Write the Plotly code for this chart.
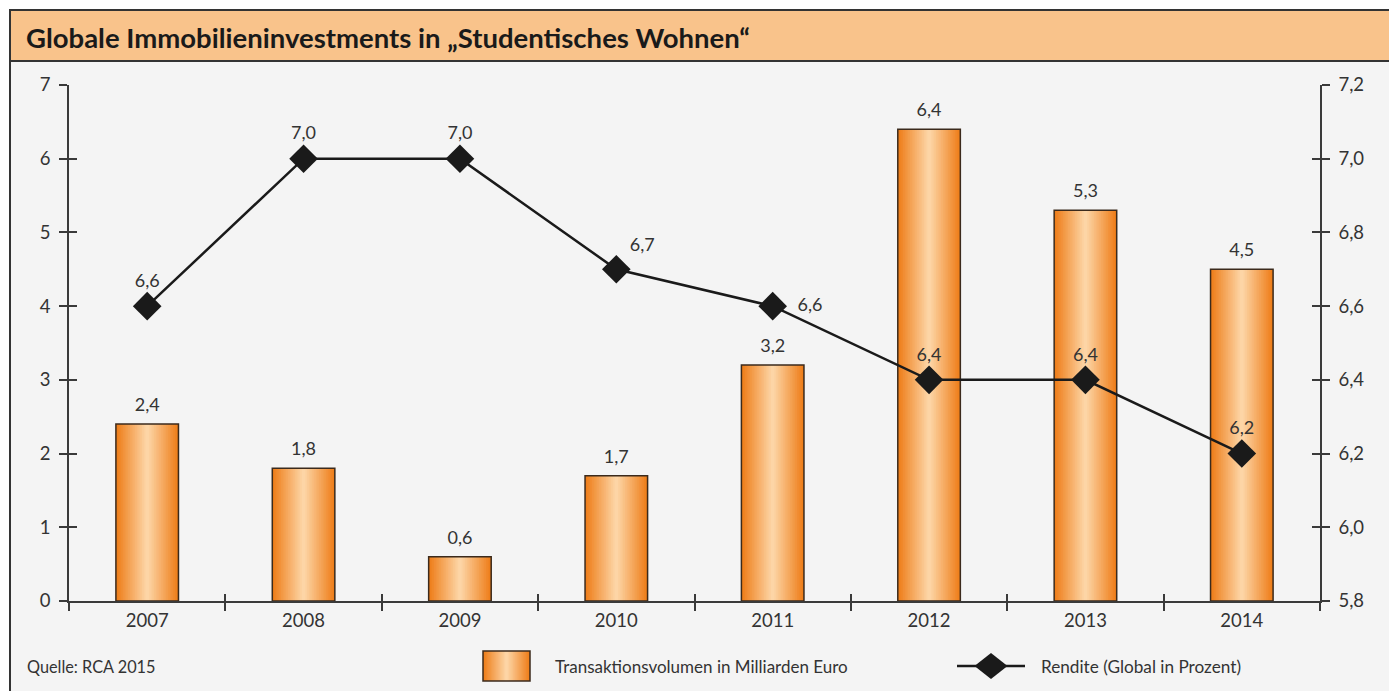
import plotly.graph_objects as go

# ---------------- data ----------------
years = ["2007", "2008", "2009", "2010", "2011", "2012", "2013", "2014"]
volumen = [2.4, 1.8, 0.6, 1.7, 3.2, 6.4, 5.3, 4.5]          # Mrd. Euro (left axis)
rendite = [6.6, 7.0, 7.0, 6.7, 6.6, 6.4, 6.4, 6.2]          # % (right axis)
rendite_textpos = ["top center", "top center", "top center", "top right",
                   "middle right", "top center", "top center", "top center"]
rendite_label_pad = [22, 22, 22, 20, 38, 22, 22, 22]        # invisible marker sizes for label offset
left_ticks = [0, 1, 2, 3, 4, 5, 6, 7]
right_ticks = [5.8, 6.0, 6.2, 6.4, 6.6, 6.8, 7.0, 7.2]

title_text = "Globale Immobilieninvestments in „Studentisches Wohnen“"
source_text = "Quelle: RCA 2015"
bar_name = "Transaktionsvolumen in Milliarden Euro"
line_name = "Rendite (Global in Prozent)"

# ---------------- style ----------------
FONT = "Lato"
TXT = "#333333"
AX = "#3a3a3a"
EDGE = (238, 126, 26)
CENTER = (253, 213, 166)
BAR_W = 0.4
N_LAYERS = 18

W, H = 1389, 691
# plot area in page pixels
L, R, T, B = 69, 1320, 85, 601


def px(x):
    return (x - L) / (R - L)


def py(y):
    return (B - y) / (B - T)


def mix(t):
    c = [round(EDGE[i] + (CENTER[i] - EDGE[i]) * t) for i in range(3)]
    return "rgb(%d,%d,%d)" % tuple(c)


def de(v):
    return f"{v:.1f}".replace(".", ",")


fig = go.Figure()

# gradient bars: overlaid layers, narrowing toward the light centre
for k in range(N_LAYERS):
    t = k / (N_LAYERS - 1)
    fig.add_trace(go.Bar(
        x=years, y=volumen, width=BAR_W * (1 - k / N_LAYERS),
        marker=dict(color=mix(t), line=dict(width=0)),
        showlegend=False, hoverinfo="skip"))
# outline on top
fig.add_trace(go.Bar(
    x=years, y=volumen, width=BAR_W,
    marker=dict(color="rgba(0,0,0,0)", line=dict(color="#3b2a1c", width=1.5)),
    showlegend=False, hoverinfo="skip"))
# bar value labels
fig.add_trace(go.Scatter(
    x=years, y=volumen, mode="markers+text",
    marker=dict(size=12, opacity=0),
    text=[de(v) for v in volumen],
    textposition="top center",
    textfont=dict(family=FONT, size=18, color=TXT),
    showlegend=False, hoverinfo="skip"))

# rendite line
fig.add_trace(go.Scatter(
    x=years, y=rendite, yaxis="y2", mode="lines+markers",
    line=dict(color="#1a1a1a", width=2.5),
    marker=dict(symbol="diamond", size=22, color="#1a1a1a",
                line=dict(width=0)),
    showlegend=False, hoverinfo="skip"))
# rendite value labels
fig.add_trace(go.Scatter(
    x=years, y=rendite, yaxis="y2", mode="markers+text",
    marker=dict(size=rendite_label_pad, opacity=0),
    text=[de(v) for v in rendite],
    textposition=rendite_textpos,
    textfont=dict(family=FONT, size=18, color=TXT),
    showlegend=False, hoverinfo="skip"))

# dummy traces to register the tick-only overlay axes
fig.add_trace(go.Scatter(x=[], y=[], xaxis="x2", yaxis="y", showlegend=False))
fig.add_trace(go.Scatter(x=[], y=[], xaxis="x", yaxis="y3", showlegend=False))
fig.add_trace(go.Scatter(x=[], y=[], xaxis="x", yaxis="y4", showlegend=False))

boundaries = [i - 0.5 for i in range(len(years) + 1)]

shapes = []
# frame background and title band
shapes.append(dict(type="rect", xref="paper", yref="paper",
                   x0=px(10), x1=px(W + 20), y0=py(H + 20), y1=py(10),
                   fillcolor="#f4f4f4", line=dict(color="#333333", width=2),
                   layer="below"))
shapes.append(dict(type="rect", xref="paper", yref="paper",
                   x0=px(10), x1=px(W + 20), y0=py(61), y1=py(10),
                   fillcolor="#f9c38b", line=dict(color="#333333", width=2),
                   layer="below"))

# legend: gradient swatch
lx0, lx1, ly0, ly1 = 483, 530, 651, 681
for k in range(N_LAYERS):
    t = k / (N_LAYERS - 1)
    half = (lx1 - lx0) / 2 * (1 - k / N_LAYERS)
    cx = (lx0 + lx1) / 2
    shapes.append(dict(type="rect", xref="paper", yref="paper",
                       x0=px(cx - half), x1=px(cx + half), y0=py(ly1), y1=py(ly0),
                       fillcolor=mix(t), line=dict(width=0)))
shapes.append(dict(type="rect", xref="paper", yref="paper",
                   x0=px(lx0), x1=px(lx1), y0=py(ly1), y1=py(ly0),
                   fillcolor="rgba(0,0,0,0)", line=dict(color="#3b2a1c", width=1.5)))
# legend: line + diamond
ymid = 666
shapes.append(dict(type="line", xref="paper", yref="paper",
                   x0=px(957), x1=px(1025), y0=py(ymid), y1=py(ymid),
                   line=dict(color="#1a1a1a", width=2.5)))
dcx, dhw, dhh = 991, 16.5, 13
shapes.append(dict(type="path", xref="paper", yref="paper",
                   path="M %f %f L %f %f L %f %f L %f %f Z" % (
                       px(dcx - dhw), py(ymid), px(dcx), py(ymid - dhh),
                       px(dcx + dhw), py(ymid), px(dcx), py(ymid + dhh)),
                   fillcolor="#1a1a1a", line=dict(width=0)))

annotations = [
    dict(text="<b>" + title_text + "</b>", xref="paper", yref="paper",
         x=px(24), y=py(37), xanchor="left", yanchor="middle", showarrow=False,
         font=dict(family=FONT, size=27.5, color="#1a1a1a")),
    dict(text=source_text, xref="paper", yref="paper",
         x=px(25), y=py(666), xanchor="left", yanchor="middle", showarrow=False,
         font=dict(family=FONT, size=16.3, color=TXT)),
    dict(text=bar_name, xref="paper", yref="paper",
         x=px(553), y=py(666), xanchor="left", yanchor="middle", showarrow=False,
         font=dict(family=FONT, size=17, color=TXT)),
    dict(text=line_name, xref="paper", yref="paper",
         x=px(1039), y=py(666), xanchor="left", yanchor="middle", showarrow=False,
         font=dict(family=FONT, size=17.2, color=TXT)),
]

axis_common = dict(showgrid=False, zeroline=False, linecolor=AX, linewidth=1.5,
                   tickcolor=AX, tickwidth=1.5, ticklen=8)
tickfont = dict(family=FONT, size=18.5, color=TXT)

fig.update_layout(
    width=W, height=H,
    margin=dict(l=L, r=W - R, t=T, b=H - B, pad=0),
    paper_bgcolor="white", plot_bgcolor="rgba(0,0,0,0)",
    separators=", ",
    barmode="overlay",
    showlegend=False,
    font=dict(family=FONT, size=17, color=TXT),
    xaxis=dict(type="category", categoryorder="array", categoryarray=years,
               range=[-0.5, len(years) - 0.5],
               tickson="boundaries", ticks="outside", showline=True,
               tickfont=tickfont, ticklabelstandoff=2, **axis_common),
    xaxis2=dict(overlaying="x", anchor="y", range=[-0.5, len(years) - 0.5],
                tickvals=boundaries, ticks="inside", showticklabels=False,
                showline=False, showgrid=False, zeroline=False,
                tickcolor=AX, tickwidth=1.5, ticklen=7),
    yaxis=dict(range=[0, 7], tickvals=left_ticks, ticks="outside", showline=True,
               tickfont=tickfont, ticklabelstandoff=5, **axis_common),
    yaxis2=dict(range=[5.8, 7.2], tickvals=right_ticks, tickformat=".1f",
                overlaying="y", side="right", ticks="outside", showline=True,
                tickfont=tickfont, ticklabelstandoff=5, **axis_common),
    yaxis3=dict(range=[0, 7], tickvals=left_ticks, overlaying="y", side="left",
                ticks="inside", showticklabels=False, showline=False,
                showgrid=False, zeroline=False,
                tickcolor=AX, tickwidth=1.5, ticklen=8),
    yaxis4=dict(range=[5.8, 7.2], tickvals=right_ticks, overlaying="y", side="right",
                ticks="inside", showticklabels=False, showline=False,
                showgrid=False, zeroline=False,
                tickcolor=AX, tickwidth=1.5, ticklen=8),
    shapes=shapes,
    annotations=annotations,
)

# remove the default page margin so the 1389x691 figure fills the window exactly
fig.write_html("out.html",
               config={"displayModeBar": False},
               post_script="document.body.style.margin='0';"
                           "document.body.style.overflow='hidden';")
